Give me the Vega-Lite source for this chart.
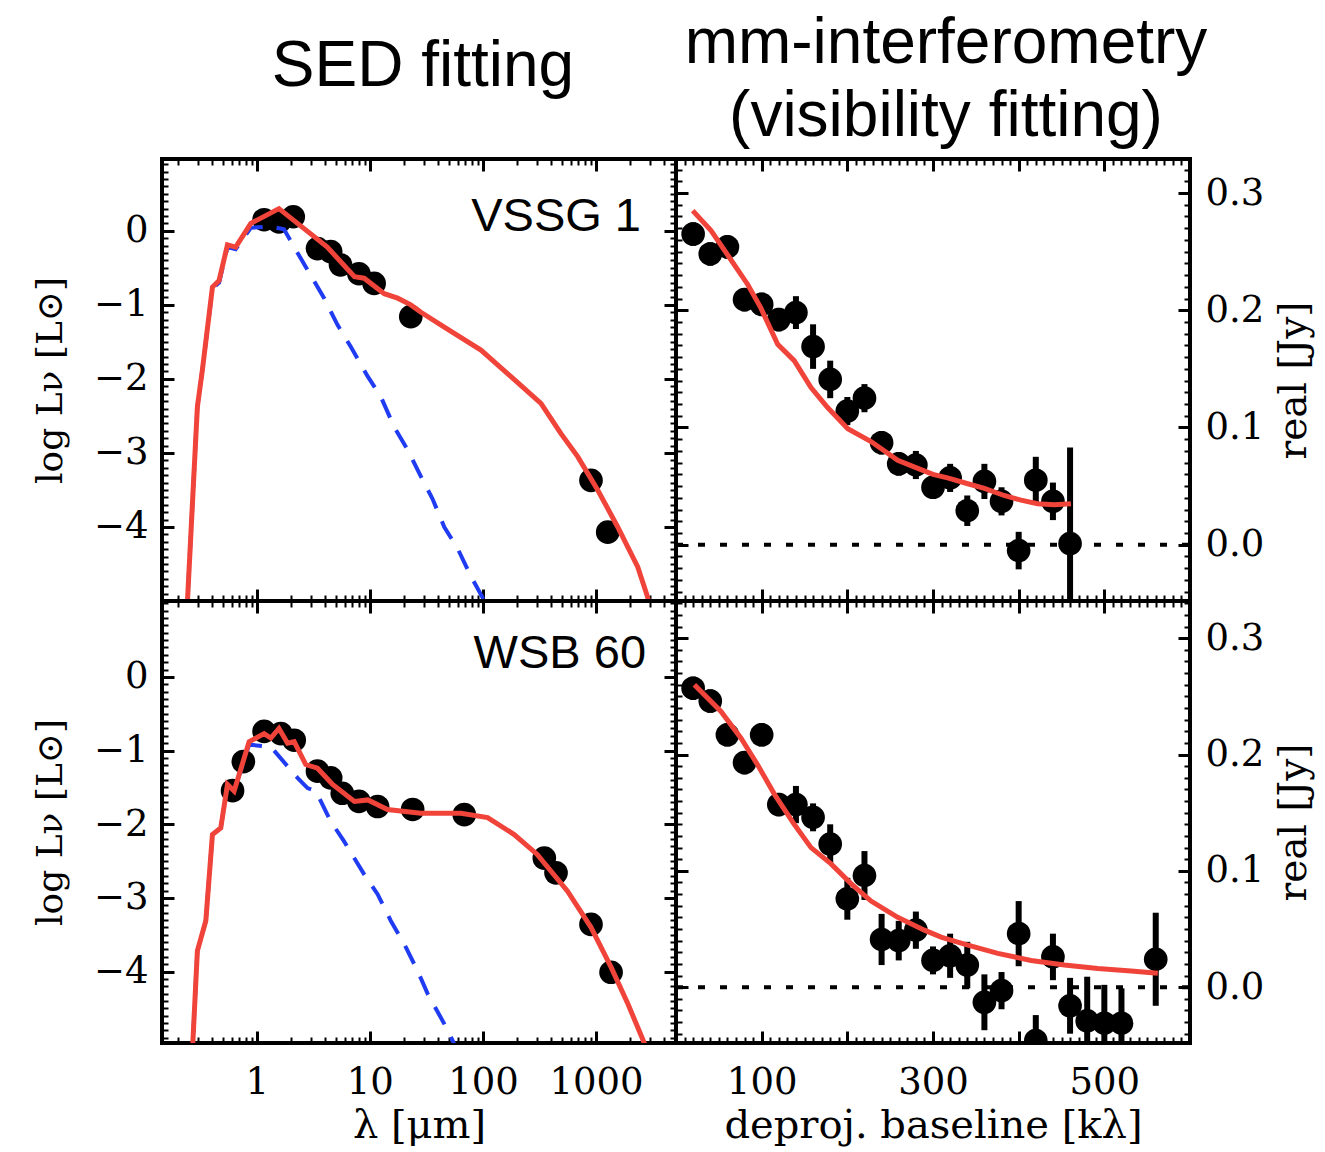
{
  "$schema": "https://vega.github.io/schema/vega-lite/v6.json",
  "background": "white",
  "padding": {"left": 30, "top": 9, "right": 4, "bottom": 2},
  "columns": 2,
  "spacing": 0,
  "bounds": "flush",
  "datasets": {
    "sedTop": [
      {"s": "data", "lam": 1.16, "logL": 0.15}, {"s": "data", "lam": 1.57, "logL": 0.12}, {"s": "data", "lam": 2.1, "logL": 0.19},
      {"s": "data", "lam": 3.44, "logL": -0.24}, {"s": "data", "lam": 4.5, "logL": -0.28}, {"s": "data", "lam": 5.5, "logL": -0.46},
      {"s": "data", "lam": 8.0, "logL": -0.58}, {"s": "data", "lam": 10.9, "logL": -0.71}, {"s": "data", "lam": 23, "logL": -1.16},
      {"s": "data", "lam": 903, "logL": -3.37}, {"s": "data", "lam": 1270, "logL": -4.07},
      {"s": "model", "lam": 0.238, "logL": -5.3}, {"s": "model", "lam": 0.298, "logL": -2.38}, {"s": "model", "lam": 0.33, "logL": -1.88},
      {"s": "model", "lam": 0.405, "logL": -0.76}, {"s": "model", "lam": 0.464, "logL": -0.67}, {"s": "model", "lam": 0.55, "logL": -0.19},
      {"s": "model", "lam": 0.65, "logL": -0.22}, {"s": "model", "lam": 0.885, "logL": 0.10}, {"s": "model", "lam": 1.57, "logL": 0.30},
      {"s": "model", "lam": 2.29, "logL": 0.10}, {"s": "model", "lam": 4.2, "logL": -0.22}, {"s": "model", "lam": 7.3, "logL": -0.62},
      {"s": "model", "lam": 8.9, "logL": -0.64}, {"s": "model", "lam": 13.4, "logL": -0.85}, {"s": "model", "lam": 17.6, "logL": -0.91},
      {"s": "model", "lam": 23, "logL": -1.0}, {"s": "model", "lam": 28.3, "logL": -1.1}, {"s": "model", "lam": 45.5, "logL": -1.30},
      {"s": "model", "lam": 96, "logL": -1.61}, {"s": "model", "lam": 177, "logL": -1.97}, {"s": "model", "lam": 326, "logL": -2.33},
      {"s": "model", "lam": 490, "logL": -2.74}, {"s": "model", "lam": 689, "logL": -3.05}, {"s": "model", "lam": 1035, "logL": -3.50},
      {"s": "model", "lam": 1556, "logL": -4.0}, {"s": "model", "lam": 2340, "logL": -4.54}, {"s": "model", "lam": 2865, "logL": -4.95},
      {"s": "model", "lam": 3000, "logL": -5.1},
      {"s": "photo", "lam": 0.238, "logL": -5.3}, {"s": "photo", "lam": 0.298, "logL": -2.38}, {"s": "photo", "lam": 0.33, "logL": -1.88},
      {"s": "photo", "lam": 0.405, "logL": -0.78}, {"s": "photo", "lam": 0.464, "logL": -0.70}, {"s": "photo", "lam": 0.55, "logL": -0.22},
      {"s": "photo", "lam": 0.65, "logL": -0.25}, {"s": "photo", "lam": 0.885, "logL": 0.04}, {"s": "photo", "lam": 1.3, "logL": 0.06},
      {"s": "photo", "lam": 1.74, "logL": 0.02}, {"s": "photo", "lam": 2.14, "logL": -0.22}, {"s": "photo", "lam": 3.94, "logL": -0.91},
      {"s": "photo", "lam": 5.17, "logL": -1.27}, {"s": "photo", "lam": 6.8, "logL": -1.57}, {"s": "photo", "lam": 9.6, "logL": -1.97},
      {"s": "photo", "lam": 12.5, "logL": -2.24}, {"s": "photo", "lam": 16.4, "logL": -2.65}, {"s": "photo", "lam": 21.6, "logL": -2.96},
      {"s": "photo", "lam": 28.3, "logL": -3.32}, {"s": "photo", "lam": 35.8, "logL": -3.62}, {"s": "photo", "lam": 45.5, "logL": -4.0},
      {"s": "photo", "lam": 59.7, "logL": -4.29}, {"s": "photo", "lam": 78.5, "logL": -4.67}, {"s": "photo", "lam": 99, "logL": -4.95},
      {"s": "photo", "lam": 105, "logL": -5.05}
    ],
    "sedBot": [
      {"s": "data", "lam": 0.61, "logL": -1.545}, {"s": "data", "lam": 0.76, "logL": -1.15}, {"s": "data", "lam": 1.16, "logL": -0.74},
      {"s": "data", "lam": 1.63, "logL": -0.77}, {"s": "data", "lam": 2.14, "logL": -0.86}, {"s": "data", "lam": 3.44, "logL": -1.28},
      {"s": "data", "lam": 4.5, "logL": -1.37}, {"s": "data", "lam": 5.7, "logL": -1.58}, {"s": "data", "lam": 8.0, "logL": -1.69},
      {"s": "data", "lam": 11.7, "logL": -1.76}, {"s": "data", "lam": 23.9, "logL": -1.80}, {"s": "data", "lam": 68.4, "logL": -1.87},
      {"s": "data", "lam": 349, "logL": -2.46}, {"s": "data", "lam": 443, "logL": -2.66}, {"s": "data", "lam": 903, "logL": -3.36},
      {"s": "data", "lam": 1359, "logL": -4.01},
      {"s": "model", "lam": 0.265, "logL": -5.3}, {"s": "model", "lam": 0.298, "logL": -3.72}, {"s": "model", "lam": 0.354, "logL": -3.31},
      {"s": "model", "lam": 0.405, "logL": -2.14}, {"s": "model", "lam": 0.48, "logL": -2.05}, {"s": "model", "lam": 0.55, "logL": -1.46},
      {"s": "model", "lam": 0.63, "logL": -1.55}, {"s": "model", "lam": 0.855, "logL": -0.88}, {"s": "model", "lam": 1.16, "logL": -0.77},
      {"s": "model", "lam": 1.33, "logL": -0.83}, {"s": "model", "lam": 1.57, "logL": -0.70}, {"s": "model", "lam": 1.87, "logL": -0.90},
      {"s": "model", "lam": 2.14, "logL": -0.88}, {"s": "model", "lam": 2.71, "logL": -1.19}, {"s": "model", "lam": 3.44, "logL": -1.24},
      {"s": "model", "lam": 4.68, "logL": -1.46}, {"s": "model", "lam": 7.3, "logL": -1.69}, {"s": "model", "lam": 9.6, "logL": -1.67},
      {"s": "model", "lam": 14.3, "logL": -1.80}, {"s": "model", "lam": 28.3, "logL": -1.85}, {"s": "model", "lam": 64, "logL": -1.85},
      {"s": "model", "lam": 110, "logL": -1.91}, {"s": "model", "lam": 189, "logL": -2.14}, {"s": "model", "lam": 302, "logL": -2.41},
      {"s": "model", "lam": 560, "logL": -2.91}, {"s": "model", "lam": 903, "logL": -3.40}, {"s": "model", "lam": 1359, "logL": -3.94},
      {"s": "model", "lam": 1917, "logL": -4.44}, {"s": "model", "lam": 2690, "logL": -4.98}, {"s": "model", "lam": 2900, "logL": -5.2},
      {"s": "photo", "lam": 0.265, "logL": -5.3}, {"s": "photo", "lam": 0.298, "logL": -3.72}, {"s": "photo", "lam": 0.354, "logL": -3.31},
      {"s": "photo", "lam": 0.405, "logL": -2.14}, {"s": "photo", "lam": 0.48, "logL": -2.05}, {"s": "photo", "lam": 0.55, "logL": -1.46},
      {"s": "photo", "lam": 0.63, "logL": -1.55}, {"s": "photo", "lam": 0.855, "logL": -0.92}, {"s": "photo", "lam": 1.33, "logL": -0.95},
      {"s": "photo", "lam": 2.29, "logL": -1.37}, {"s": "photo", "lam": 2.81, "logL": -1.51}, {"s": "photo", "lam": 3.33, "logL": -1.55},
      {"s": "photo", "lam": 4.5, "logL": -1.96}, {"s": "photo", "lam": 5.9, "logL": -2.23}, {"s": "photo", "lam": 8.9, "logL": -2.68},
      {"s": "photo", "lam": 11.7, "logL": -2.95}, {"s": "photo", "lam": 15.3, "logL": -3.31}, {"s": "photo", "lam": 20.2, "logL": -3.63},
      {"s": "photo", "lam": 26.4, "logL": -3.99}, {"s": "photo", "lam": 32.4, "logL": -4.30}, {"s": "photo", "lam": 45.5, "logL": -4.71},
      {"s": "photo", "lam": 55.7, "logL": -4.98}, {"s": "photo", "lam": 60, "logL": -5.1}
    ],
    "visTop": [
      {"s": "data", "u": 20, "v": 0.265, "lo": 0.255, "hi": 0.275}, {"s": "data", "u": 40, "v": 0.248, "lo": 0.238, "hi": 0.258},
      {"s": "data", "u": 60, "v": 0.254, "lo": 0.244, "hi": 0.264}, {"s": "data", "u": 80, "v": 0.209, "lo": 0.199, "hi": 0.219},
      {"s": "data", "u": 100, "v": 0.205, "lo": 0.195, "hi": 0.215}, {"s": "data", "u": 120, "v": 0.192, "lo": 0.182, "hi": 0.202},
      {"s": "data", "u": 140, "v": 0.198, "lo": 0.184, "hi": 0.212}, {"s": "data", "u": 160, "v": 0.169, "lo": 0.150, "hi": 0.188},
      {"s": "data", "u": 180, "v": 0.141, "lo": 0.125, "hi": 0.157}, {"s": "data", "u": 200, "v": 0.114, "lo": 0.102, "hi": 0.126},
      {"s": "data", "u": 220, "v": 0.125, "lo": 0.113, "hi": 0.137}, {"s": "data", "u": 240, "v": 0.087, "lo": 0.077, "hi": 0.097},
      {"s": "data", "u": 260, "v": 0.069, "lo": 0.059, "hi": 0.079}, {"s": "data", "u": 280, "v": 0.068, "lo": 0.056, "hi": 0.080},
      {"s": "data", "u": 300, "v": 0.049, "lo": 0.039, "hi": 0.059}, {"s": "data", "u": 320, "v": 0.057, "lo": 0.045, "hi": 0.069},
      {"s": "data", "u": 340, "v": 0.029, "lo": 0.016, "hi": 0.042}, {"s": "data", "u": 360, "v": 0.054, "lo": 0.039, "hi": 0.069},
      {"s": "data", "u": 380, "v": 0.037, "lo": 0.025, "hi": 0.049}, {"s": "data", "u": 400, "v": -0.005, "lo": -0.021, "hi": 0.011},
      {"s": "data", "u": 420, "v": 0.055, "lo": 0.035, "hi": 0.075}, {"s": "data", "u": 440, "v": 0.037, "lo": 0.021, "hi": 0.053},
      {"s": "data", "u": 460, "v": 0.001, "lo": -0.081, "hi": 0.083},
      {"s": "model", "u": 19.5, "v": 0.285}, {"s": "model", "u": 40.9, "v": 0.268}, {"s": "model", "u": 62.3, "v": 0.245},
      {"s": "model", "u": 83.7, "v": 0.222}, {"s": "model", "u": 99, "v": 0.202}, {"s": "model", "u": 118.7, "v": 0.171},
      {"s": "model", "u": 138, "v": 0.157}, {"s": "model", "u": 157.6, "v": 0.134}, {"s": "model", "u": 177, "v": 0.117},
      {"s": "model", "u": 200.5, "v": 0.099}, {"s": "model", "u": 227.7, "v": 0.088}, {"s": "model", "u": 258.8, "v": 0.072},
      {"s": "model", "u": 286, "v": 0.064}, {"s": "model", "u": 300, "v": 0.060}, {"s": "model", "u": 317, "v": 0.057},
      {"s": "model", "u": 340.6, "v": 0.052}, {"s": "model", "u": 360, "v": 0.048}, {"s": "model", "u": 383, "v": 0.042},
      {"s": "model", "u": 402.8, "v": 0.038}, {"s": "model", "u": 422, "v": 0.035}, {"s": "model", "u": 441.6, "v": 0.034},
      {"s": "model", "u": 461, "v": 0.035}
    ],
    "visBot": [
      {"s": "data", "u": 20, "v": 0.257, "lo": 0.247, "hi": 0.267}, {"s": "data", "u": 40, "v": 0.246, "lo": 0.236, "hi": 0.256},
      {"s": "data", "u": 60, "v": 0.217, "lo": 0.207, "hi": 0.227}, {"s": "data", "u": 80, "v": 0.193, "lo": 0.183, "hi": 0.203},
      {"s": "data", "u": 100, "v": 0.217, "lo": 0.207, "hi": 0.227}, {"s": "data", "u": 120, "v": 0.157, "lo": 0.147, "hi": 0.167},
      {"s": "data", "u": 140, "v": 0.157, "lo": 0.141, "hi": 0.173}, {"s": "data", "u": 160, "v": 0.146, "lo": 0.134, "hi": 0.158},
      {"s": "data", "u": 180, "v": 0.123, "lo": 0.106, "hi": 0.140}, {"s": "data", "u": 200, "v": 0.076, "lo": 0.058, "hi": 0.094},
      {"s": "data", "u": 220, "v": 0.096, "lo": 0.075, "hi": 0.117}, {"s": "data", "u": 240, "v": 0.041, "lo": 0.019, "hi": 0.063},
      {"s": "data", "u": 260, "v": 0.040, "lo": 0.023, "hi": 0.057}, {"s": "data", "u": 280, "v": 0.049, "lo": 0.033, "hi": 0.065},
      {"s": "data", "u": 300, "v": 0.023, "lo": 0.011, "hi": 0.035}, {"s": "data", "u": 320, "v": 0.027, "lo": 0.008, "hi": 0.046},
      {"s": "data", "u": 340, "v": 0.019, "lo": -0.001, "hi": 0.039}, {"s": "data", "u": 360, "v": -0.013, "lo": -0.037, "hi": 0.011},
      {"s": "data", "u": 380, "v": -0.003, "lo": -0.019, "hi": 0.013}, {"s": "data", "u": 400, "v": 0.046, "lo": 0.018, "hi": 0.074},
      {"s": "data", "u": 420, "v": -0.046, "lo": -0.068, "hi": -0.024}, {"s": "data", "u": 440, "v": 0.026, "lo": 0.006, "hi": 0.046},
      {"s": "data", "u": 460, "v": -0.016, "lo": -0.040, "hi": 0.008}, {"s": "data", "u": 480, "v": -0.029, "lo": -0.067, "hi": 0.009},
      {"s": "data", "u": 500, "v": -0.031, "lo": -0.064, "hi": 0.002}, {"s": "data", "u": 520, "v": -0.031, "lo": -0.061, "hi": -0.001},
      {"s": "data", "u": 560, "v": 0.024, "lo": -0.016, "hi": 0.064},
      {"s": "model", "u": 21.4, "v": 0.260}, {"s": "model", "u": 52.5, "v": 0.237}, {"s": "model", "u": 75.9, "v": 0.214},
      {"s": "model", "u": 95.4, "v": 0.191}, {"s": "model", "u": 114.8, "v": 0.166}, {"s": "model", "u": 138, "v": 0.140},
      {"s": "model", "u": 157.6, "v": 0.120}, {"s": "model", "u": 181, "v": 0.106}, {"s": "model", "u": 204.3, "v": 0.089},
      {"s": "model", "u": 227.7, "v": 0.074}, {"s": "model", "u": 258.8, "v": 0.060}, {"s": "model", "u": 290, "v": 0.049},
      {"s": "model", "u": 309.4, "v": 0.043}, {"s": "model", "u": 336.6, "v": 0.037}, {"s": "model", "u": 375.6, "v": 0.029},
      {"s": "model", "u": 414.5, "v": 0.023}, {"s": "model", "u": 453.4, "v": 0.019}, {"s": "model", "u": 492.3, "v": 0.016},
      {"s": "model", "u": 531.2, "v": 0.014}, {"s": "model", "u": 562.4, "v": 0.012}
    ],
    "labels": [
      {"panel": "top", "lam": 2500, "logL": 0.0, "name": "VSSG 1"},
      {"panel": "bot", "lam": 2770, "logL": 0.12, "name": "WSB 60"}
    ]
  },
  "concat": [
    {
      "width": 514, "height": 442,
      "title": {"text": "SED fitting", "fontSize": 64, "font": "Liberation Sans", "fontWeight": "normal", "color": "black", "anchor": "middle", "baseline": "bottom", "offset": -5, "dx": 4},
      "layer": [
        {"data": {"name": "sedTop"}, "transform": [{"filter": "datum.s == 'data'"}],
         "mark": {"type": "circle", "color": "black", "opacity": 1, "size": 560, "clip": true},
         "encoding": {
           "x": {"field": "lam", "type": "quantitative", "scale": {"type": "log", "domain": [0.145, 5100], "nice": false}, "axis": {"orient": "bottom", "values": [1, 10, 100, 1000], "labels": false, "tickSize": -12, "title": null}},
           "y": {"field": "logL", "type": "quantitative", "scale": {"domain": [-5, 0.97], "nice": false, "zero": false}, "axis": {"orient": "left", "values": [0, -1, -2, -3, -4], "format": "d", "tickSize": -12, "labelPadding": 26, "title": "log Lν [L⊙]", "titlePadding": 24}}
         }},
        {"data": {"name": "sedTop"}, "transform": [{"filter": "datum.s == 'photo'"}],
         "mark": {"type": "line", "color": "#203cf2", "strokeWidth": 4, "strokeDash": [20, 14], "clip": true},
         "encoding": {
           "x": {"field": "lam", "type": "quantitative", "scale": {"type": "log", "domain": [0.145, 5100], "nice": false}, "axis": {"orient": "top", "values": [1, 10, 100, 1000], "labels": false, "tickSize": -12, "title": null}},
           "y": {"field": "logL", "type": "quantitative", "scale": {"domain": [-5, 0.97], "nice": false, "zero": false}, "axis": {"orient": "right", "values": [0, -1, -2, -3, -4], "labels": false, "tickSize": -12, "title": null}}
         }},
        {"data": {"name": "sedTop"}, "transform": [{"filter": "datum.s == 'model'"}],
         "mark": {"type": "line", "color": "#f0443a", "strokeWidth": 5, "clip": true},
         "encoding": {
           "x": {"field": "lam", "type": "quantitative", "scale": {"type": "log", "domain": [0.145, 5100], "nice": false}, "axis": {"orient": "bottom", "values": [0.2,0.3,0.4,0.5,0.6,0.7,0.8,0.9,2,3,4,5,6,7,8,9,20,30,40,50,60,70,80,90,200,300,400,500,600,700,800,900,2000,3000,4000,5000], "labels": false, "tickSize": -6, "tickWidth": 2, "title": null}},
           "y": {"field": "logL", "type": "quantitative", "scale": {"domain": [-5, 0.97], "nice": false, "zero": false}, "axis": {"orient": "left", "values": [-4.9,-4.8,-4.7,-4.6,-4.5,-4.4,-4.3,-4.2,-4.1,-3.9,-3.8,-3.7,-3.6,-3.5,-3.4,-3.3,-3.2,-3.1,-2.9,-2.8,-2.7,-2.6,-2.5,-2.4,-2.3,-2.2,-2.1,-1.9,-1.8,-1.7,-1.6,-1.5,-1.4,-1.3,-1.2,-1.1,-0.9,-0.8,-0.7,-0.6,-0.5,-0.4,-0.3,-0.2,-0.1,0.1,0.2,0.3,0.4,0.5,0.6,0.7,0.8,0.9], "labels": false, "tickSize": -6, "tickWidth": 2, "title": null}}
         }},
        {"data": {"name": "labels"}, "transform": [{"filter": "datum.panel == 'top'"}],
         "mark": {"type": "text", "font": "Liberation Sans", "fontSize": 47, "align": "right", "baseline": "alphabetic", "color": "black"},
         "encoding": {
           "x": {"field": "lam", "type": "quantitative", "scale": {"type": "log", "domain": [0.145, 5100], "nice": false}, "axis": {"orient": "top", "values": [0.2,0.3,0.4,0.5,0.6,0.7,0.8,0.9,2,3,4,5,6,7,8,9,20,30,40,50,60,70,80,90,200,300,400,500,600,700,800,900,2000,3000,4000,5000], "labels": false, "tickSize": -6, "tickWidth": 2, "title": null}},
           "y": {"field": "logL", "type": "quantitative", "scale": {"domain": [-5, 0.97], "nice": false, "zero": false}, "axis": {"orient": "right", "values": [-4.9,-4.8,-4.7,-4.6,-4.5,-4.4,-4.3,-4.2,-4.1,-3.9,-3.8,-3.7,-3.6,-3.5,-3.4,-3.3,-3.2,-3.1,-2.9,-2.8,-2.7,-2.6,-2.5,-2.4,-2.3,-2.2,-2.1,-1.9,-1.8,-1.7,-1.6,-1.5,-1.4,-1.3,-1.2,-1.1,-0.9,-0.8,-0.7,-0.6,-0.5,-0.4,-0.3,-0.2,-0.1,0.1,0.2,0.3,0.4,0.5,0.6,0.7,0.8,0.9], "labels": false, "tickSize": -6, "tickWidth": 2, "title": null}},
           "text": {"field": "name"}
         }}
      ],
      "resolve": {"axis": {"x": "independent", "y": "independent"}}
    },
    {
      "width": 514, "height": 442,
      "title": {"text": ["mm-interferometry", "(visibility fitting)"], "fontSize": 64, "lineHeight": 73, "font": "Liberation Sans", "fontWeight": "normal", "color": "black", "anchor": "middle", "baseline": "bottom", "offset": -55, "dx": 13},
      "layer": [
        {"data": {"values": [{}]},
         "mark": {"type": "rule", "color": "black", "strokeWidth": 4, "strokeDash": [7, 15]},
         "encoding": {
           "x": {"datum": 0, "type": "quantitative", "scale": {"domain": [0, 600], "nice": false}, "axis": {"orient": "top", "values": [10,20,30,40,50,60,70,80,90,110,120,130,140,150,160,170,180,190,210,220,230,240,250,260,270,280,290,310,320,330,340,350,360,370,380,390,410,420,430,440,450,460,470,480,490,510,520,530,540,550,560,570,580,590], "labels": false, "tickSize": -6, "tickWidth": 2, "title": null}},
           "x2": {"datum": 600},
           "y": {"datum": 0, "type": "quantitative", "scale": {"domain": [-0.048, 0.329], "nice": false, "zero": false}, "axis": {"orient": "left", "values": [-0.04,-0.03,-0.02,-0.01,0.01,0.02,0.03,0.04,0.05,0.06,0.07,0.08,0.09,0.11,0.12,0.13,0.14,0.15,0.16,0.17,0.18,0.19,0.21,0.22,0.23,0.24,0.25,0.26,0.27,0.28,0.29,0.31,0.32], "labels": false, "tickSize": -6, "tickWidth": 2, "title": null}}
         }},
        {"data": {"name": "visTop"}, "transform": [{"filter": "datum.s == 'data'"}],
         "mark": {"type": "rule", "color": "black", "strokeWidth": 6, "clip": true},
         "encoding": {
           "x": {"field": "u", "type": "quantitative", "scale": {"domain": [0, 600], "nice": false}, "axis": {"orient": "top", "values": [100, 200, 300, 400, 500], "labels": false, "tickSize": -12, "title": null}},
           "y": {"field": "lo", "type": "quantitative", "scale": {"domain": [-0.048, 0.329], "nice": false, "zero": false}, "axis": {"orient": "left", "values": [0, 0.1, 0.2, 0.3], "labels": false, "tickSize": -12, "title": null}},
           "y2": {"field": "hi"}
         }},
        {"data": {"name": "visTop"}, "transform": [{"filter": "datum.s == 'data'"}],
         "mark": {"type": "circle", "color": "black", "opacity": 1, "size": 560, "clip": true},
         "encoding": {
           "x": {"field": "u", "type": "quantitative", "scale": {"domain": [0, 600], "nice": false}, "axis": {"orient": "bottom", "values": [10,20,30,40,50,60,70,80,90,110,120,130,140,150,160,170,180,190,210,220,230,240,250,260,270,280,290,310,320,330,340,350,360,370,380,390,410,420,430,440,450,460,470,480,490,510,520,530,540,550,560,570,580,590], "labels": false, "tickSize": -6, "tickWidth": 2, "title": null}},
           "y": {"field": "v", "type": "quantitative", "scale": {"domain": [-0.048, 0.329], "nice": false, "zero": false}, "axis": {"orient": "right", "values": [-0.04,-0.03,-0.02,-0.01,0.01,0.02,0.03,0.04,0.05,0.06,0.07,0.08,0.09,0.11,0.12,0.13,0.14,0.15,0.16,0.17,0.18,0.19,0.21,0.22,0.23,0.24,0.25,0.26,0.27,0.28,0.29,0.31,0.32], "labels": false, "tickSize": -6, "tickWidth": 2, "title": null}}
         }},
        {"data": {"name": "visTop"}, "transform": [{"filter": "datum.s == 'model'"}],
         "mark": {"type": "line", "color": "#f0443a", "strokeWidth": 5, "clip": true},
         "encoding": {
           "x": {"field": "u", "type": "quantitative", "scale": {"domain": [0, 600], "nice": false}, "axis": {"orient": "bottom", "values": [100, 200, 300, 400, 500], "labels": false, "tickSize": -12, "title": null}},
           "y": {"field": "v", "type": "quantitative", "scale": {"domain": [-0.048, 0.329], "nice": false, "zero": false}, "axis": {"orient": "right", "values": [0, 0.1, 0.2, 0.3], "format": ".1f", "tickSize": -12, "labelPadding": 27, "title": "real [Jy]", "titleAngle": 270, "titleBaseline": "top", "titleFontSize": 39, "titlePadding": 11}}
         }}
      ],
      "resolve": {"axis": {"x": "independent", "y": "independent"}}
    },
    {
      "width": 514, "height": 442,
      "layer": [
        {"data": {"name": "sedBot"}, "transform": [{"filter": "datum.s == 'data'"}],
         "mark": {"type": "circle", "color": "black", "opacity": 1, "size": 560, "clip": true},
         "encoding": {
           "x": {"field": "lam", "type": "quantitative", "scale": {"type": "log", "domain": [0.145, 5100], "nice": false}, "axis": {"orient": "bottom", "values": [1, 10, 100, 1000], "format": "d", "tickSize": -12, "labelPadding": 33, "title": "λ [μm]", "titleFontSize": 40, "titlePadding": 5}},
           "y": {"field": "logL", "type": "quantitative", "scale": {"domain": [-4.97, 1.03], "nice": false, "zero": false}, "axis": {"orient": "left", "values": [0, -1, -2, -3, -4], "format": "d", "tickSize": -12, "labelPadding": 26, "title": "log Lν [L⊙]", "titlePadding": 24}}
         }},
        {"data": {"name": "sedBot"}, "transform": [{"filter": "datum.s == 'photo'"}],
         "mark": {"type": "line", "color": "#203cf2", "strokeWidth": 4, "strokeDash": [20, 14], "clip": true},
         "encoding": {
           "x": {"field": "lam", "type": "quantitative", "scale": {"type": "log", "domain": [0.145, 5100], "nice": false}, "axis": {"orient": "top", "values": [1, 10, 100, 1000], "labels": false, "tickSize": -12, "title": null}},
           "y": {"field": "logL", "type": "quantitative", "scale": {"domain": [-4.97, 1.03], "nice": false, "zero": false}, "axis": {"orient": "right", "values": [0, -1, -2, -3, -4], "labels": false, "tickSize": -12, "title": null}}
         }},
        {"data": {"name": "sedBot"}, "transform": [{"filter": "datum.s == 'model'"}],
         "mark": {"type": "line", "color": "#f0443a", "strokeWidth": 5, "clip": true},
         "encoding": {
           "x": {"field": "lam", "type": "quantitative", "scale": {"type": "log", "domain": [0.145, 5100], "nice": false}, "axis": {"orient": "bottom", "values": [0.2,0.3,0.4,0.5,0.6,0.7,0.8,0.9,2,3,4,5,6,7,8,9,20,30,40,50,60,70,80,90,200,300,400,500,600,700,800,900,2000,3000,4000,5000], "labels": false, "tickSize": -6, "tickWidth": 2, "title": null}},
           "y": {"field": "logL", "type": "quantitative", "scale": {"domain": [-4.97, 1.03], "nice": false, "zero": false}, "axis": {"orient": "left", "values": [-4.9,-4.8,-4.7,-4.6,-4.5,-4.4,-4.3,-4.2,-4.1,-3.9,-3.8,-3.7,-3.6,-3.5,-3.4,-3.3,-3.2,-3.1,-2.9,-2.8,-2.7,-2.6,-2.5,-2.4,-2.3,-2.2,-2.1,-1.9,-1.8,-1.7,-1.6,-1.5,-1.4,-1.3,-1.2,-1.1,-0.9,-0.8,-0.7,-0.6,-0.5,-0.4,-0.3,-0.2,-0.1,0.1,0.2,0.3,0.4,0.5,0.6,0.7,0.8,0.9,1.0], "labels": false, "tickSize": -6, "tickWidth": 2, "title": null}}
         }},
        {"data": {"name": "labels"}, "transform": [{"filter": "datum.panel == 'bot'"}],
         "mark": {"type": "text", "font": "Liberation Sans", "fontSize": 47, "align": "right", "baseline": "alphabetic", "color": "black"},
         "encoding": {
           "x": {"field": "lam", "type": "quantitative", "scale": {"type": "log", "domain": [0.145, 5100], "nice": false}, "axis": {"orient": "top", "values": [0.2,0.3,0.4,0.5,0.6,0.7,0.8,0.9,2,3,4,5,6,7,8,9,20,30,40,50,60,70,80,90,200,300,400,500,600,700,800,900,2000,3000,4000,5000], "labels": false, "tickSize": -6, "tickWidth": 2, "title": null}},
           "y": {"field": "logL", "type": "quantitative", "scale": {"domain": [-4.97, 1.03], "nice": false, "zero": false}, "axis": {"orient": "right", "values": [-4.9,-4.8,-4.7,-4.6,-4.5,-4.4,-4.3,-4.2,-4.1,-3.9,-3.8,-3.7,-3.6,-3.5,-3.4,-3.3,-3.2,-3.1,-2.9,-2.8,-2.7,-2.6,-2.5,-2.4,-2.3,-2.2,-2.1,-1.9,-1.8,-1.7,-1.6,-1.5,-1.4,-1.3,-1.2,-1.1,-0.9,-0.8,-0.7,-0.6,-0.5,-0.4,-0.3,-0.2,-0.1,0.1,0.2,0.3,0.4,0.5,0.6,0.7,0.8,0.9,1.0], "labels": false, "tickSize": -6, "tickWidth": 2, "title": null}},
           "text": {"field": "name"}
         }}
      ],
      "resolve": {"axis": {"x": "independent", "y": "independent"}}
    },
    {
      "width": 514, "height": 442,
      "layer": [
        {"data": {"values": [{}]},
         "mark": {"type": "rule", "color": "black", "strokeWidth": 4, "strokeDash": [7, 15]},
         "encoding": {
           "x": {"datum": 0, "type": "quantitative", "scale": {"domain": [0, 600], "nice": false}, "axis": {"orient": "top", "values": [10,20,30,40,50,60,70,80,90,110,120,130,140,150,160,170,180,190,210,220,230,240,250,260,270,280,290,310,320,330,340,350,360,370,380,390,410,420,430,440,450,460,470,480,490,510,520,530,540,550,560,570,580,590], "labels": false, "tickSize": -6, "tickWidth": 2, "title": null}},
           "x2": {"datum": 600},
           "y": {"datum": 0, "type": "quantitative", "scale": {"domain": [-0.048, 0.332], "nice": false, "zero": false}, "axis": {"orient": "left", "values": [-0.04,-0.03,-0.02,-0.01,0.01,0.02,0.03,0.04,0.05,0.06,0.07,0.08,0.09,0.11,0.12,0.13,0.14,0.15,0.16,0.17,0.18,0.19,0.21,0.22,0.23,0.24,0.25,0.26,0.27,0.28,0.29,0.31,0.32,0.33], "labels": false, "tickSize": -6, "tickWidth": 2, "title": null}}
         }},
        {"data": {"name": "visBot"}, "transform": [{"filter": "datum.s == 'data'"}],
         "mark": {"type": "rule", "color": "black", "strokeWidth": 6, "clip": true},
         "encoding": {
           "x": {"field": "u", "type": "quantitative", "scale": {"domain": [0, 600], "nice": false}, "axis": {"orient": "top", "values": [100, 200, 300, 400, 500], "labels": false, "tickSize": -12, "title": null}},
           "y": {"field": "lo", "type": "quantitative", "scale": {"domain": [-0.048, 0.332], "nice": false, "zero": false}, "axis": {"orient": "left", "values": [0, 0.1, 0.2, 0.3], "labels": false, "tickSize": -12, "title": null}},
           "y2": {"field": "hi"}
         }},
        {"data": {"name": "visBot"}, "transform": [{"filter": "datum.s == 'data'"}],
         "mark": {"type": "circle", "color": "black", "opacity": 1, "size": 560, "clip": true},
         "encoding": {
           "x": {"field": "u", "type": "quantitative", "scale": {"domain": [0, 600], "nice": false}, "axis": {"orient": "bottom", "values": [10,20,30,40,50,60,70,80,90,110,120,130,140,150,160,170,180,190,210,220,230,240,250,260,270,280,290,310,320,330,340,350,360,370,380,390,410,420,430,440,450,460,470,480,490,510,520,530,540,550,560,570,580,590], "labels": false, "tickSize": -6, "tickWidth": 2, "title": null}},
           "y": {"field": "v", "type": "quantitative", "scale": {"domain": [-0.048, 0.332], "nice": false, "zero": false}, "axis": {"orient": "right", "values": [-0.04,-0.03,-0.02,-0.01,0.01,0.02,0.03,0.04,0.05,0.06,0.07,0.08,0.09,0.11,0.12,0.13,0.14,0.15,0.16,0.17,0.18,0.19,0.21,0.22,0.23,0.24,0.25,0.26,0.27,0.28,0.29,0.31,0.32,0.33], "labels": false, "tickSize": -6, "tickWidth": 2, "title": null}}
         }},
        {"data": {"name": "visBot"}, "transform": [{"filter": "datum.s == 'model'"}],
         "mark": {"type": "line", "color": "#f0443a", "strokeWidth": 5, "clip": true},
         "encoding": {
           "x": {"field": "u", "type": "quantitative", "scale": {"domain": [0, 600], "nice": false}, "axis": {"orient": "bottom", "values": [100, 200, 300, 400, 500], "format": "d", "labelExpr": "datum.value % 200 == 100 ? datum.label : ''", "tickSize": -12, "labelPadding": 33, "title": "deproj. baseline [kλ]", "titleFontSize": 40, "titlePadding": 5}},
           "y": {"field": "v", "type": "quantitative", "scale": {"domain": [-0.048, 0.332], "nice": false, "zero": false}, "axis": {"orient": "right", "values": [0, 0.1, 0.2, 0.3], "format": ".1f", "tickSize": -12, "labelPadding": 27, "title": "real [Jy]", "titleAngle": 270, "titleBaseline": "top", "titleFontSize": 39, "titlePadding": 11}}
         }}
      ],
      "resolve": {"axis": {"x": "independent", "y": "independent"}}
    }
  ],
  "config": {
    "view": {"stroke": "black", "strokeWidth": 4},
    "axis": {"domain": false, "grid": false, "tickColor": "black", "tickWidth": 3, "labelFont": "DejaVu Serif", "labelFontSize": 37, "labelColor": "black", "titleFont": "DejaVu Serif", "titleFontWeight": "normal", "titleColor": "black", "titleFontSize": 36, "labelFlush": false, "labelOverlap": false}
  }
}
